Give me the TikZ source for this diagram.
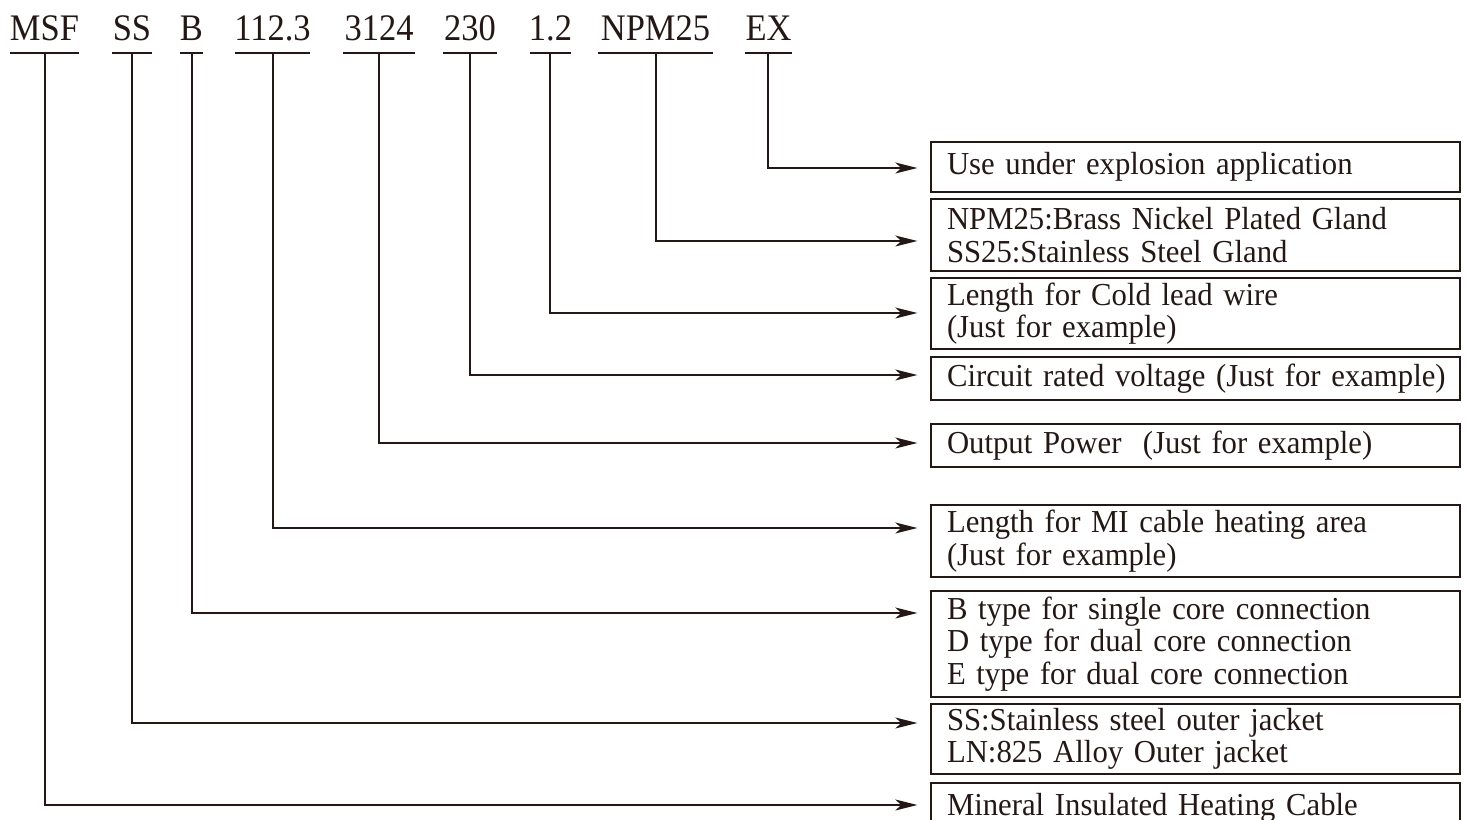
\documentclass[tikz,border=0pt]{standalone}
\usepackage{fontspec}
\setmainfont{Liberation Serif}
\newfontfamily\codefont[FakeStretch=0.92]{Liberation Serif}
\newfontfamily\descfont[FakeStretch=0.96]{Liberation Serif}
\usetikzlibrary{arrows.meta}
\definecolor{ink}{HTML}{231815}
\tikzset{
  code/.style={font=\codefont\fontsize{37.5}{40}\selectfont, text=ink, inner sep=0pt, anchor=base},
  uline/.style={draw=ink, line width=1.8pt},
  descbox/.style={draw=ink, line width=1.4pt, rectangle, text width=497pt, align=left,
    inner xsep=16pt, inner ysep=0pt, font=\descfont\fontsize{32}{32.5}\selectfont, text=ink},
  conn/.style={draw=ink, line width=1.8pt, shorten >=13pt,
    -{Stealth[length=22pt,width=11pt,inset=6pt]}}
}
\begin{document}
\begin{tikzpicture}[x=1pt,y=-1pt]
\useasboundingbox (0,0) rectangle (1466,819);
\clip (0,0) rectangle (1466,819);

% code labels
\node[code] (cMSF) at (44.5,40) {MSF};
\node[code] (cSS)  at (132,40) {SS};
\node[code] (cB)   at (191.5,40) {B};
\node[code] (cLen) at (272.5,40) {112.3};
\node[code] (cPow) at (379,40) {3124};
\node[code] (cVol) at (470,40) {230};
\node[code] (cCold) at (550.5,40) {1.2};
\node[code] (cNPM) at (655.5,40) {NPM25};
\node[code] (cEX)  at (768.5,40) {EX};

% underlines
\draw[uline] (10,53) -- (79,53);
\draw[uline] (112,53) -- (152,53);
\draw[uline] (180,53) -- (203,53);
\draw[uline] (235,53) -- (310,53);
\draw[uline] (343,53) -- (415,53);
\draw[uline] (443,53) -- (497,53);
\draw[uline] (530,53) -- (571,53);
\draw[uline] (598,53) -- (713,53);
\draw[uline] (745,53) -- (792,53);

% stem tops
\coordinate (sMSF) at (45,53);
\coordinate (sSS) at (132,53);
\coordinate (sB) at (192,53);
\coordinate (sLen) at (273,53);
\coordinate (sPow) at (379,53);
\coordinate (sVol) at (470,53);
\coordinate (sCold) at (550,53);
\coordinate (sNPM) at (656,53);
\coordinate (sEX) at (768,53);

% arrow levels
\coordinate (yEX) at (0,168);
\coordinate (yNPM) at (0,241);
\coordinate (yCold) at (0,313);
\coordinate (yVol) at (0,375);
\coordinate (yPow) at (0,443);
\coordinate (yLen) at (0,528);
\coordinate (yB) at (0,613);
\coordinate (ySS) at (0,723);
\coordinate (yMSF) at (0,805);

% boxes
\node[descbox, minimum height=50pt] (bEX) at (1195.5,167) {Use under explosion application};
\node[descbox, minimum height=72pt] (bNPM) at (1195.5,235) {NPM25:Brass Nickel Plated Gland\\SS25:Stainless Steel Gland};
\node[descbox, minimum height=71pt] (bCold) at (1195.5,313.5) {Length for Cold lead wire\\(Just for example)};
\node[descbox, minimum height=43pt] (bVol) at (1195.5,378.5) {\mbox{Circuit rated voltage (Just for example)}};
\node[descbox, minimum height=43pt] (bPow) at (1195.5,445.5) {Output Power\ \ (Just for example)};
\node[descbox, minimum height=72pt] (bLen) at (1195.5,541) {Length for MI cable heating area\\(Just for example)};
\node[descbox, minimum height=106pt] (bB) at (1195.5,644) {B type for single core connection\\D type for dual core connection\\E type for dual core connection};
\node[descbox, minimum height=70pt] (bSS) at (1195.5,739) {SS:Stainless steel outer jacket\\LN:825 Alloy Outer jacket};
\node[descbox, minimum height=50pt] (bMSF) at (1195.5,808) {Mineral Insulated Heating Cable};

% connectors
\draw[conn] (sEX) |- (bEX.west |- yEX);
\draw[conn] (sNPM) |- (bNPM.west |- yNPM);
\draw[conn] (sCold) |- (bCold.west |- yCold);
\draw[conn] (sVol) |- (bVol.west |- yVol);
\draw[conn] (sPow) |- (bPow.west |- yPow);
\draw[conn] (sLen) |- (bLen.west |- yLen);
\draw[conn] (sB) |- (bB.west |- yB);
\draw[conn] (sSS) |- (bSS.west |- ySS);
\draw[conn] (sMSF) |- (bMSF.west |- yMSF);
\end{tikzpicture}
\end{document}
